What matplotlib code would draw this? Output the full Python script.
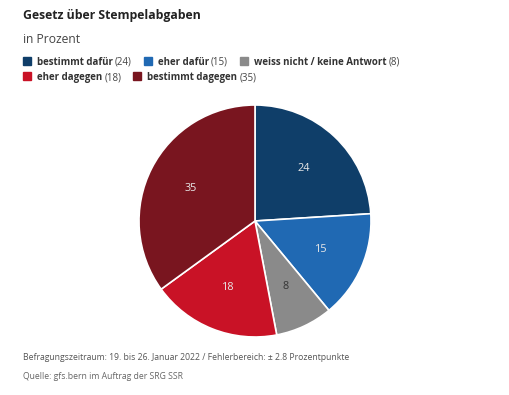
import matplotlib.pyplot as plt
from matplotlib.patches import Rectangle
import numpy as np

labels = ["bestimmt dafür", "eher dafür", "weiss nicht / keine Antwort", "eher dagegen", "bestimmt dagegen"]
values = [24, 15, 8, 18, 35]
colors = ["#0f3e69", "#2069b3", "#8a8a8a", "#c91226", "#79151f"]
text_colors = ["#e8e8e8", "#e8e8e8", "#333333", "#e8e8e8", "#e8e8e8"]
legend_rows = [[0, 1, 2], [3, 4]]

plt.rcParams['font.family'] = ['Open Sans', 'DejaVu Sans']

W, H = 510, 395
fig = plt.figure(figsize=(W / 100, H / 100), dpi=100)
fig.patch.set_facecolor("white")

def px(x, y):
    return x / W, 1 - y / H

fig.text(*px(23, 19), "Gesetz über Stempelabgaben", fontsize=8.8, fontweight="bold",
         color="#222222", va="baseline", ha="left")
fig.text(*px(23, 43), "in Prozent", fontsize=8.7, color="#444444", va="baseline", ha="left")

# legend
renderer = fig.canvas.get_renderer()
row_y = [65, 80]
for r, row in enumerate(legend_rows):
    x = 23
    y = row_y[r]
    for i in row:
        fig.patches.append(Rectangle(px(x, y), 8 / W, 8 / H, transform=fig.transFigure,
                                     color=colors[i], figure=fig))
        x += 14
        t1 = fig.text(*px(x, y), labels[i], fontsize=7, fontweight="bold", color="#333333",
                      va="baseline", ha="left")
        w1 = t1.get_window_extent(renderer).width
        x += w1 + 2
        t2 = fig.text(*px(x, y), "(%d)" % values[i], fontsize=7, color="#444444",
                      va="baseline", ha="left")
        x += t2.get_window_extent(renderer).width + 12

# pie
cx, cy, rad = 255, 221, 116
ax = fig.add_axes([(cx - rad) / W, (H - cy - rad) / H, 2 * rad / W, 2 * rad / H])
wedges, _ = ax.pie(values, colors=colors, startangle=90, counterclock=False,
                   wedgeprops=dict(edgecolor="white", linewidth=1.2))
theta = 90.0
for v, c in zip(values, text_colors):
    span = v / sum(values) * 360
    mid = np.deg2rad(theta - span / 2)
    ax.text(0.62 * np.cos(mid), 0.62 * np.sin(mid), str(v), color=c, fontsize=7.8,
            ha="center", va="center")
    theta -= span
ax.set_xlim(-1, 1)
ax.set_ylim(-1, 1)
ax.set_aspect("equal")
ax.axis("off")

fig.text(*px(23, 360), "Befragungszeitraum: 19. bis 26. Januar 2022 / Fehlerbereich: ± 2.8 Prozentpunkte",
         fontsize=6.2, color="#555555", va="baseline", ha="left")
fig.text(*px(23, 379), "Quelle: gfs.bern im Auftrag der SRG SSR",
         fontsize=6.2, color="#666666", va="baseline", ha="left")

fig.savefig("out.png", dpi=100)
